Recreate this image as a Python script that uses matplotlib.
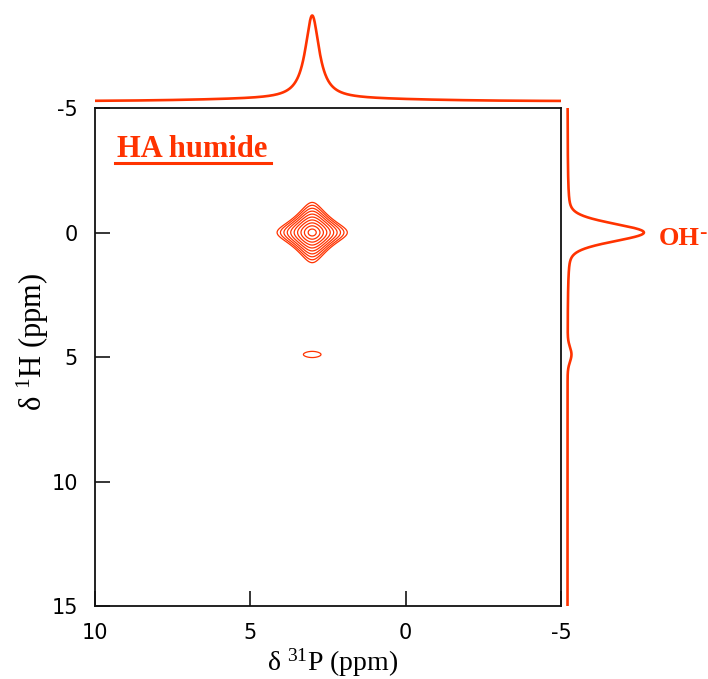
import numpy as np
import matplotlib
matplotlib.use("Agg")
import matplotlib.pyplot as plt
from matplotlib.lines import Line2D

plt.rcParams['axes.unicode_minus'] = False
plt.rcParams['mathtext.fontset'] = 'custom'
plt.rcParams['mathtext.rm'] = 'Liberation Serif'
plt.rcParams['mathtext.it'] = 'Liberation Serif:italic'
plt.rcParams['mathtext.bf'] = 'Liberation Serif:bold'

# ---------------- data ----------------
# 2D cross peaks: 31P shift, 1H shift, relative amplitude, half widths (ppm)
peak_p31 = [3.0, 3.0]
peak_h1 = [0.0, 4.9]
peak_amp = [1.0, 0.135]
peak_hw_p31 = [0.43, 0.83]
peak_hw_h1 = [0.46, 0.33]
contour_levels = [0.127, 0.151, 0.183, 0.224, 0.280, 0.355, 0.456, 0.588, 0.747, 0.917]

# 1D projections (31P on top, 1H on the right)
p31_proj_peak = 3.0
p31_proj_hw = 0.27
p31_proj_broad_amp = 0.03
p31_proj_broad_sigma = 3.0

h1_proj_peaks = [0.0, 4.9]
h1_proj_amps = [1.0, 0.05]
h1_proj_fwhm = [0.85, 0.7]
h1_proj_lorentz_frac = [0.25, 0.0]

x_ticks = [10, 5, 0, -5]
x_tick_labels = ['10', '5', '0', '-5']
y_ticks = [-5, 0, 5, 10, 15]
y_tick_labels = ['-5', '0', '5', '10', '15']

title_text = 'HA humide'
peak_label = 'OH'
peak_charge = '-'
x_label = 'δ $^{31}$P (ppm)'
y_label = 'δ $^{1}$H (ppm)'

COL = '#ff3300'

# ---------------- figure ----------------
W, H = 708, 679
fig = plt.figure(figsize=(W / 100, H / 100), dpi=100)

def fig_rect(x0, y0, x1, y1):
    return [x0 / W, 1 - y1 / H, (x1 - x0) / W, (y1 - y0) / H]

ax = fig.add_axes(fig_rect(94.5, 108, 561, 606))
ax_top = fig.add_axes(fig_rect(94.5, 8, 561, 104))
ax_right = fig.add_axes(fig_rect(562, 108, 660, 606))

# 2D surface from peak parameters (product of Lorentzians)
xp = np.linspace(10, -5, 700)
yh = np.linspace(-5, 15, 900)
X, Y = np.meshgrid(xp, yh)
Z = np.zeros_like(X)
for p, h, a, wp, wh in zip(peak_p31, peak_h1, peak_amp, peak_hw_p31, peak_hw_h1):
    Z += a / ((1 + ((X - p) / wp) ** 2) * (1 + ((Y - h) / wh) ** 2))

ax.contour(X, Y, Z, levels=contour_levels, colors=COL, linewidths=0.9)
ax.set_xlim(10, -5)
ax.set_ylim(15, -5)
ax.set_xticks(x_ticks)
ax.set_xticklabels(x_tick_labels)
ax.set_yticks(y_ticks)
ax.set_yticklabels(y_tick_labels)
ax.tick_params(direction='in', length=11, width=1.1, top=False, right=False,
               labelsize=15, pad=12)
for lab in ax.get_xticklabels() + ax.get_yticklabels():
    lab.set_fontfamily('DejaVu Sans')
for s in ax.spines.values():
    s.set_linewidth(1.3)
    s.set_color('#111111')

ax.set_xlabel(x_label, fontfamily='Liberation Serif', fontsize=20)
ax.xaxis.set_label_coords(0.511, -0.082)
ax.xaxis.label.set_va('top')
ax.set_ylabel(y_label, fontfamily='Liberation Serif', fontsize=22)
ax.yaxis.set_label_coords(-0.093, 0.53)

txt = ax.text(0.0476, 0.901, title_text, transform=ax.transAxes,
              fontfamily='Liberation Serif', fontweight='bold', fontsize=22,
              color=COL, ha='left', va='baseline')

# top projection
xt = np.linspace(10, -5, 1200)
top_y = 1.0 / (1 + ((xt - p31_proj_peak) / p31_proj_hw) ** 2)
top_y += p31_proj_broad_amp * np.exp(-0.5 * ((xt - p31_proj_peak) / p31_proj_broad_sigma) ** 2)
ax_top.plot(xt, top_y, color=COL, lw=1.9, solid_capstyle='butt')
ax_top.set_xlim(10, -5)
ax_top.set_ylim(-0.035, 1.12)
ax_top.axis('off')

# right projection
yr = np.linspace(-5, 15, 1500)
right_x = np.zeros_like(yr)
for c, a, fw, eta in zip(h1_proj_peaks, h1_proj_amps, h1_proj_fwhm, h1_proj_lorentz_frac):
    sig = fw / 2.3548
    g = np.exp(-0.5 * ((yr - c) / sig) ** 2)
    l = 1.0 / (1 + ((yr - c) / (fw / 2)) ** 2)
    right_x += a * ((1 - eta) * g + eta * l)
ax_right.plot(right_x, yr, color=COL, lw=1.9, solid_capstyle='butt')
ax_right.set_ylim(15, -5)
ax_right.set_xlim(-0.072, 1.21)
ax_right.axis('off')

fig.text(659 / W, 1 - 245 / H, peak_label, fontfamily='Liberation Serif',
         fontweight='bold', fontsize=19, color=COL, ha='left', va='baseline')
fig.text(699 / W, 1 - 238 / H, peak_charge, fontfamily='Liberation Serif',
         fontweight='bold', fontsize=16, color=COL, ha='left', va='baseline')

# underline for the sample label
fig.canvas.draw()
bb = txt.get_window_extent()
base_y = ax.transAxes.transform((0, 0.901))[1]
yline = base_y - 5.5
fig.add_artist(Line2D([bb.x0 - 1.5, bb.x1 + 4], [yline, yline], transform=None,
                      color=COL, lw=2.2))

fig.savefig('out.png', dpi=100)
